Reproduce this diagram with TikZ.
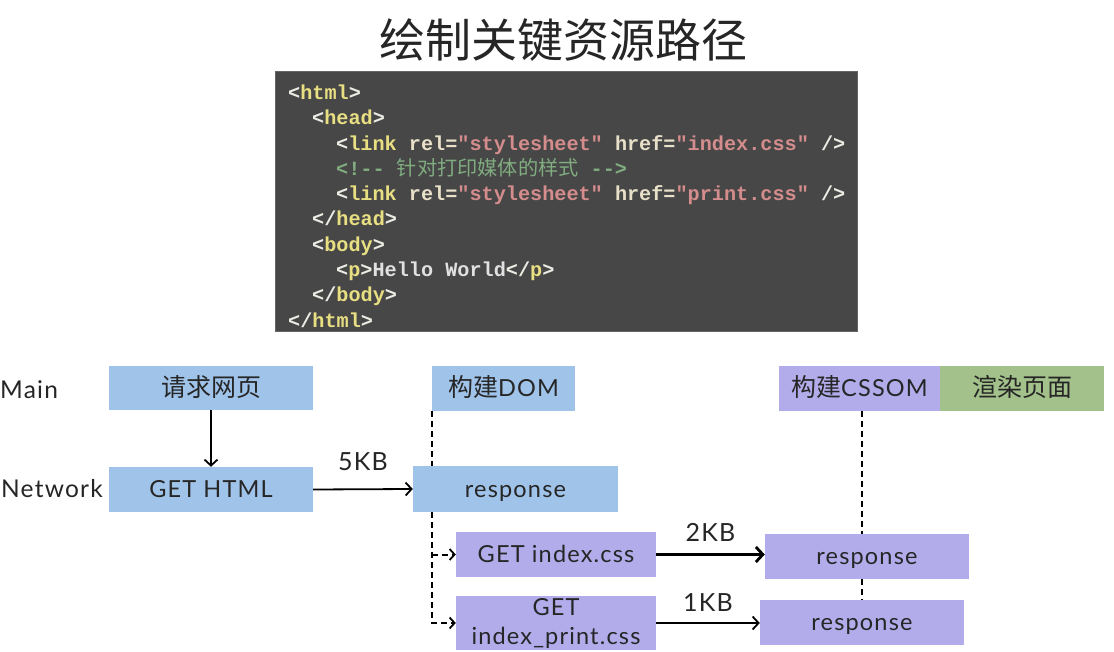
\documentclass[tikz,border=0pt]{standalone}
\usepackage{fontspec}
\setmainfont{Lato}[LetterSpace=5]
\setmonofont{Liberation Mono}
\newfontfamily\cjk{Noto Sans CJK SC}
\usetikzlibrary{arrows.meta}
\definecolor{cblue}{RGB}{160,195,233}
\definecolor{cpurple}{RGB}{178,172,235}
\definecolor{cgreen}{RGB}{163,193,139}
\definecolor{codebg}{RGB}{71,71,71}
\definecolor{codeedge}{RGB}{100,100,100}
\definecolor{ctag}{RGB}{232,222,130}
\definecolor{cpun}{RGB}{236,236,228}
\definecolor{catt}{RGB}{232,224,200}
\definecolor{cstr}{RGB}{212,140,140}
\definecolor{ccom}{RGB}{128,172,128}
\definecolor{ctxt}{RGB}{225,225,225}
\newcommand{\Tg}[1]{\textcolor{ctag}{#1}}
\newcommand{\Pn}[1]{\textcolor{cpun}{#1}}
\newcommand{\At}[1]{\textcolor{catt}{#1}}
\newcommand{\St}[1]{\textcolor{cstr}{#1}}
\newcommand{\zh}[1]{{\cjk\fontsize{25}{28}\selectfont #1}}
\tikzset{
  box/.style={rectangle, inner sep=0pt, minimum height=45pt, align=center,
    text height=19pt, text depth=3pt,
    font=\fontsize{23.5}{27}\selectfont, text=black!85},
  bluebox/.style={box, fill=cblue},
  purplebox/.style={box, fill=cpurple},
  greenbox/.style={box, fill=cgreen},
  lane/.style={inner sep=0pt, font=\fontsize{24.5}{28}\selectfont, text=black!85},
  codeline/.style={anchor=base west, inner sep=0pt, font=\fontsize{20.2}{24}\ttfamily\bfseries},
  conn/.style={line width=1.8pt, -{Straight Barb[length=6pt,width=13pt,line width=1.8pt]}},
  thickconn/.style={line width=3.4pt, -{Straight Barb[length=7pt,width=15pt,line width=2.8pt]}},
  dashline/.style={line width=2pt, dash pattern=on 6pt off 4pt},
  dasharrow/.style={dashline, -{Straight Barb[length=5pt,width=11pt,line width=1.8pt]}},
  kb/.style={inner sep=0pt, font=\fontsize{25}{28}\selectfont, text=black!85},
}
\begin{document}
\begin{tikzpicture}[x=1pt,y=-1pt]
\useasboundingbox (0,0) rectangle (1114,652);
\fill[white] (0,0) rectangle (1114,652);
% title
\node[inner sep=0pt, font=\cjk\fontsize{46}{50}\selectfont, text=black!85] (title) at (563,40) {绘制关键资源路径};
% code box
\node[rectangle, fill=codebg, draw=codeedge, line width=1pt, minimum width=582pt, minimum height=260pt, inner sep=0pt] (code) at (566,202) {};
\node[codeline] (c1) at (288,99.5) {\Pn{<}\Tg{html}\Pn{>}};
\node[codeline] (c2) at (312,125) {\Pn{<}\Tg{head}\Pn{>}};
\node[codeline] (c3) at (336,150.5) {\Pn{<}\Tg{link} \At{rel=}\St{"stylesheet"} \At{href=}\St{"index.css"} \Pn{/>}};
\node[codeline] (c4) at (336,175.5) {\textcolor{ccom}{<!-{}- {\cjk\mdseries 针对打印媒体的样式} -{}->}};
\node[codeline] (c5) at (336,200.5) {\Pn{<}\Tg{link} \At{rel=}\St{"stylesheet"} \At{href=}\St{"print.css"} \Pn{/>}};
\node[codeline] (c6) at (312,226) {\Pn{</}\Tg{head}\Pn{>}};
\node[codeline] (c7) at (312,251.5) {\Pn{<}\Tg{body}\Pn{>}};
\node[codeline] (c8) at (336,276.5) {\Pn{<}\Tg{p}\Pn{>}\textcolor{ctxt}{Hello World}\Pn{</}\Tg{p}\Pn{>}};
\node[codeline] (c9) at (312,302) {\Pn{</}\Tg{body}\Pn{>}};
\node[codeline] (c10) at (288,327) {\Pn{</}\Tg{html}\Pn{>}};
% lane labels
\node[lane, anchor=west] (main) at (0,390) {Main};
\node[lane, anchor=east] (net) at (103,489) {Network};
% boxes
\node[bluebox, minimum width=204pt, minimum height=44pt] (q) at (211,388) {\zh{请求网页}};
\node[bluebox, minimum width=143pt] (dom) at (503.5,388.5) {\zh{构建}DOM};
\node[bluebox, minimum width=204pt] (gh) at (211,489.5) {GET HTML};
\node[bluebox, minimum width=205pt, minimum height=46pt] (r1) at (515.5,489) {response};
\node[purplebox, minimum width=161pt] (cssom) at (859.5,388.5) {\zh{构建}CSSOM};
\node[greenbox, minimum width=164pt] (render) at (1022,388.5) {\zh{渲染页面}};
\node[purplebox, minimum width=200pt] (gi) at (556,554.5) {GET index.css};
\node[purplebox, minimum width=204pt] (r2) at (867,556.5) {response};
\node[purplebox, minimum width=200pt, minimum height=54pt, text height=, text depth=, font=\fontsize{23.5}{29}\selectfont] (gp) at (556,623) {GET\\index\_print.css};
\node[purplebox, minimum width=204pt] (r3) at (862,622.5) {response};
% connectors
\draw[conn] (q.south) -- (gh.north);
\draw[conn] (gh.east) -- node[kb, above=18pt] (kb5) {5KB} (r1.west);
\draw[dashline] (dom.south west) -- (dom.south west |- r1.north);
\draw[dasharrow] (dom.south west |- r1.south) -- (dom.south west |- gp.west) -- (gp.west);
\draw[dasharrow] (dom.south west |- gi.west) -- (gi.west);
\draw[thickconn] (gi.east) -- node[kb, above=11pt] (kb2) {2KB} (gi.east -| r2.west);
\draw[conn] (gp.east) -- node[kb, above=11pt] (kb1) {1KB} (gp.east -| r3.west);
\draw[dashline] ([xshift=2pt]cssom.south) -- ([xshift=2pt]cssom.south |- r2.north);
\draw[dashline] ([xshift=2pt]cssom.south |- r2.south) -- ([xshift=2pt]cssom.south |- r3.north);
\end{tikzpicture}
\end{document}
